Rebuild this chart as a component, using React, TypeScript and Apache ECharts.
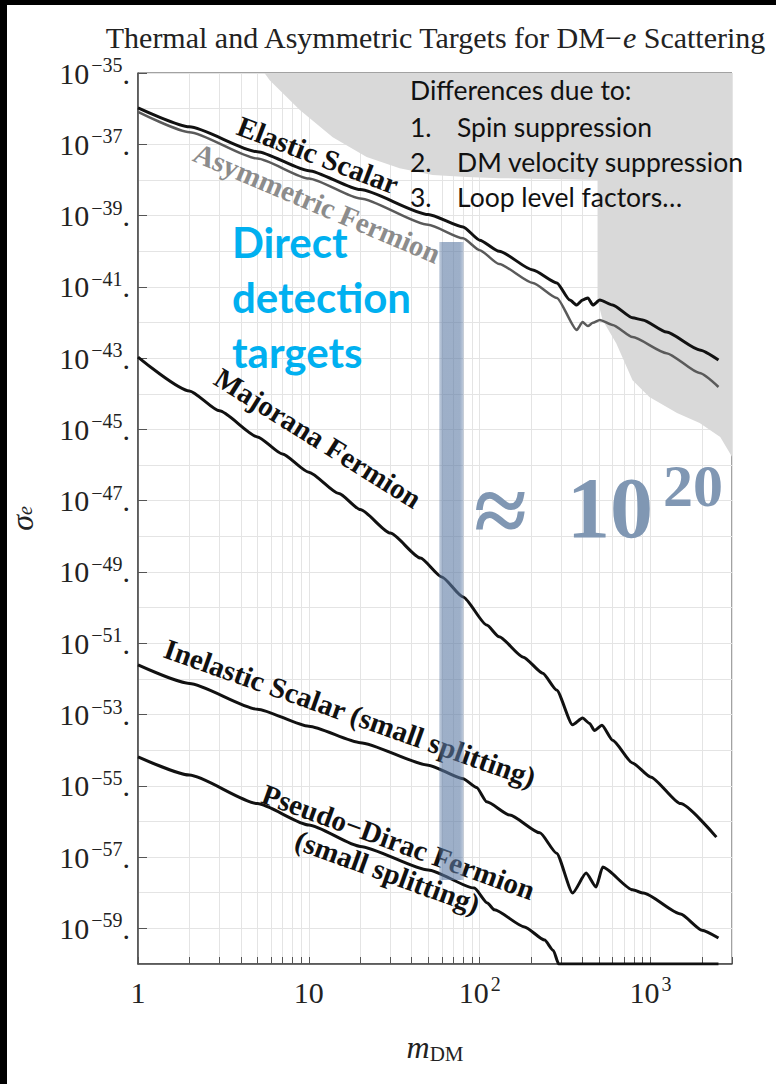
import React, { useEffect, useRef } from "react";
import * as echarts from "echarts";

// ---- data (mass in GeV, cross sections as log10 of sigma_e) ----
const elasticMass = [1, 2, 5, 10, 20, 50, 80, 100, 130, 205, 283, 337, 370, 400, 430, 460, 505, 600, 785, 900, 1240, 1940, 2500];
const elasticLogSigma = [-35.98, -36.51, -37.21, -37.74, -38.27, -38.97, -39.32, -39.69, -40.0, -40.53, -40.89, -41.37, -41.51, -41.37, -41.31, -41.51, -41.37, -41.51, -41.87, -41.93, -42.27, -42.77, -43.05];

const asymMass = [1, 2, 5, 10, 20, 50, 80, 100, 130, 205, 283, 370, 400, 430, 460, 505, 600, 785, 1240, 1940, 2500];
const asymLogSigma = [-36.09, -36.66, -37.4, -37.96, -38.52, -39.26, -39.64, -39.97, -40.36, -40.89, -41.31, -42.21, -41.99, -42.1, -42.01, -41.93, -42.07, -42.41, -42.86, -43.42, -43.81];

const majoranaMass = [1, 2, 3, 5, 7, 10, 15, 20, 30, 45, 60, 80, 110, 130, 180, 234, 282, 350, 400, 440, 470, 520, 600, 785, 1000, 1500, 2430];
const majoranaLogSigma = [-42.97, -43.92, -44.48, -45.21, -45.69, -46.2, -46.8, -47.25, -47.91, -48.61, -49.14, -49.7, -50.49, -50.82, -51.39, -51.84, -52.31, -53.29, -53.1, -53.25, -53.45, -53.3, -53.72, -54.36, -54.75, -55.5, -56.44];

const inelasticMass = [1, 2, 5, 10, 20, 50, 80, 96, 110, 150, 225, 282, 350, 420, 480, 525, 785, 910, 1500, 2000, 2500];
const inelasticLogSigma = [-51.61, -52.13, -52.85, -53.33, -53.79, -54.42, -54.8, -55.05, -55.45, -55.82, -56.32, -56.89, -58.01, -57.45, -57.84, -57.28, -57.92, -58.01, -58.6, -59.05, -59.27];

const pseudoMass = [1, 2, 5, 10, 20, 50, 93, 111, 122, 183, 240, 270, 290, 2500];
const pseudoLogSigma = [-54.19, -54.7, -55.5, -56.1, -56.7, -57.36, -57.87, -58.29, -58.48, -58.96, -59.33, -59.62, -60.0, -60.0];

// grey excluded region (lower boundary), closes along the top / right frame
const greyMass = [5.5, 5.9, 8.86, 13.8, 21.8, 34, 53, 84, 131, 490, 490, 524, 630, 785, 985, 1430, 1940, 2560, 3000, 3000];
const greyLogSigma = [-35, -35.2, -36.04, -36.8, -37.36, -37.67, -37.86, -37.92, -37.95, -38.0, -41.37, -41.93, -42.58, -43.62, -44.09, -44.54, -44.82, -45.21, -45.77, -35];

// highlighted band: [mass from, mass to], [log sigma top, log sigma bottom]
const bandMass = [58, 80.5];
const bandLogSigma = [-39.74, -57.64];

// axes
const xTickMasses = [1, 2, 3, 4, 5, 6, 7, 8, 9, 10, 20, 30, 40, 50, 60, 70, 80, 90, 100, 200, 300, 400, 500, 600, 700, 800, 900, 1000, 2000, 3000];
const xLabelExponents = [0, 1, 2, 3];
const yGridExponents = [-60, -59, -58, -57, -56, -55, -54, -53, -52, -51, -50, -49, -48, -47, -46, -45, -44, -43, -42, -41, -40, -39, -38, -37, -36, -35];
const yLabelExponents = [-59, -57, -55, -53, -51, -49, -47, -45, -43, -41, -39, -37, -35];

const SERIF = '"Liberation Serif", "Times New Roman", serif';
const SANS = 'Lato, "Open Sans", sans-serif';
const L = Math.log10;

const pts = (m: number[], s: number[]) => m.map((v, i) => [L(v), s[i]]);

export default function App() {
  const ref = useRef<HTMLDivElement>(null);
  useEffect(() => {
    if (!ref.current) return;
    const chart = echarts.init(ref.current, null, { renderer: "svg" });
    const deg = (d: number) => (-d * Math.PI) / 180;
    const lineSeries = (name: string, m: number[], s: number[], color: string, width: number) => ({
      type: "line",
      name,
      data: pts(m, s),
      showSymbol: false,
      symbol: "none",
      smooth: 0.2,
      smoothMonotone: "x",
      lineStyle: { color, width },
      z: 4,
      silent: true,
    });
    const labelText = (text: string, x: number, y: number, rot: number, fill: string, size = 29, lh = 32) => ({
      type: "text",
      x,
      y,
      rotation: deg(rot),
      z: 5,
      style: {
        text,
        fill,
        fontFamily: SERIF,
        fontWeight: "bold",
        fontSize: size,
        lineHeight: lh,
        textAlign: "center",
        textVerticalAlign: "middle",
      },
    });
    const plain = (text: string, x: number, y: number, opts: any) => ({
      type: "text",
      x,
      y,
      z: 6,
      style: { text, textVerticalAlign: "middle", textAlign: "left", ...opts },
    });
    const tickRich = {
      b: { fontFamily: SERIF, fontSize: 30, color: "#222", lineHeight: 36 },
      s: { fontFamily: SERIF, fontSize: 20, color: "#222", lineHeight: 20, verticalAlign: "top", padding: [0, 0, 0, 2] },
    };
    const option: any = {
      animation: false,
      backgroundColor: "#ffffff",
      title: {
        text: "Thermal and Asymmetric Targets for DM\u2212{i|e} Scattering",
        left: 430,
        top: 16,
        textAlign: "center",
        textStyle: {
          fontFamily: SERIF,
          fontSize: 30,
          lineHeight: 32,
          fontWeight: "normal",
          color: "#222",
          rich: { i: { fontFamily: SERIF, fontStyle: "italic", fontSize: 30, lineHeight: 32, color: "#222" } },
        },
      },
      grid: {
        left: 138,
        right: 44,
        top: 73,
        bottom: 120,
        show: true,
        borderColor: "#444",
        borderWidth: 1,
        containLabel: false,
        outerBoundsMode: "none",
      },
      xAxis: {
        type: "value",
        min: 0,
        max: L(3000),
        axisLine: { show: true, onZero: false, lineStyle: { color: "#444", width: 1.5 } },
        axisTick: { show: true, inside: true, length: 7, customValues: xTickMasses.map(L), lineStyle: { color: "#555" } },
        axisLabel: {
          customValues: xLabelExponents,
          margin: 10,
          formatter: (v: number) => {
            const e = Math.round(v);
            if (e === 0) return "{b|1}";
            if (e === 1) return "{b|10}";
            return `{b|10}{s|${e}}`;
          },
          rich: tickRich,
        },
        splitLine: { show: true, lineStyle: { color: "#e4e4e4", width: 1 } },
        name: "{m|m}{s|DM}",
        nameLocation: "middle",
        nameGap: 66,
        nameTextStyle: {
          rich: {
            m: { fontFamily: SERIF, fontStyle: "italic", fontSize: 32, color: "#222", lineHeight: 34 },
            s: { fontFamily: SERIF, fontSize: 21, color: "#222", lineHeight: 21, verticalAlign: "bottom" },
          },
        },
      },
      yAxis: [
        {
          type: "value",
          min: -60,
          max: -35,
          interval: 1,
          axisLine: { show: false },
          axisTick: { show: false, customValues: yGridExponents },
          axisLabel: { show: false },
          splitLine: { show: true, lineStyle: { color: "#e4e4e4", width: 1 } },
        },
        {
          type: "value",
          min: -60,
          max: -35,
          interval: 1,
          position: "left",
          axisLine: { show: true, onZero: false, lineStyle: { color: "#444", width: 1.5 } },
          axisTick: { show: true, inside: true, length: 9, customValues: yLabelExponents, lineStyle: { color: "#555" } },
          axisLabel: {
            customValues: yLabelExponents,
            margin: 8,
            formatter: (v: number) => `{b|10}{s|\u2212${Math.abs(Math.round(v))}}{b|.}`,
            rich: tickRich,
          },
          splitLine: { show: false },
          name: "{m|\u03c3}{s|e}",
          nameLocation: "middle",
          nameGap: 103,
          nameRotate: 90,
          nameTextStyle: {
            rich: {
              m: { fontFamily: SERIF, fontStyle: "italic", fontSize: 32, color: "#222", lineHeight: 26 },
              s: { fontFamily: SERIF, fontStyle: "italic", fontSize: 20, color: "#222", lineHeight: 18, verticalAlign: "bottom" },
            },
          },
        },
      ],
      series: [
        {
          type: "custom",
          name: "Excluded region",
          coordinateSystem: "cartesian2d",
          clip: true,
          silent: true,
          z: 1,
          data: [[L(greyMass[0]), greyLogSigma[0]]],
          renderItem: (_p: any, api: any) => ({
            type: "polygon",
            shape: { points: greyMass.map((m, i) => api.coord([L(m), greyLogSigma[i]])) },
            style: { fill: "#d9d9d9" },
          }),
        },
        lineSeries("Elastic Scalar", elasticMass, elasticLogSigma, "#111", 3),
        lineSeries("Asymmetric Fermion", asymMass, asymLogSigma, "#5a5a5a", 2.5),
        lineSeries("Majorana Fermion", majoranaMass, majoranaLogSigma, "#111", 3),
        lineSeries("Inelastic Scalar (small splitting)", inelasticMass, inelasticLogSigma, "#111", 3),
        lineSeries("Pseudo-Dirac Fermion (small splitting)", pseudoMass, pseudoLogSigma, "#111", 3),
        {
          type: "custom",
          name: "Direct detection targets",
          coordinateSystem: "cartesian2d",
          clip: true,
          silent: true,
          z: 10,
          data: [[L(bandMass[0]), bandLogSigma[0], L(bandMass[1]), bandLogSigma[1]]],
          renderItem: (_p: any, api: any) => {
            const a = api.coord([api.value(0), api.value(1)]);
            const b = api.coord([api.value(2), api.value(3)]);
            return {
              type: "rect",
              shape: { x: a[0], y: a[1], width: b[0] - a[0], height: b[1] - a[1] },
              style: {
                fill: new echarts.graphic.LinearGradient(0, 0, 1, 0, [
                  { offset: 0, color: "rgba(92,122,164,0.38)" },
                  { offset: 0.15, color: "rgba(92,122,164,0.6)" },
                  { offset: 0.85, color: "rgba(92,122,164,0.6)" },
                  { offset: 1, color: "rgba(92,122,164,0.38)" },
                ]),
              },
            };
          },
        },
      ],
      graphic: [
        { type: "rect", z: 20, shape: { x: 0, y: 0, width: 7, height: 1084 }, style: { fill: "#000" } },
        { type: "rect", z: 20, shape: { x: 0, y: 0, width: 776, height: 5 }, style: { fill: "#000" } },
        labelText("Elastic Scalar", 318, 155, 21, "#111"),
        labelText("Asymmetric Fermion", 317, 203, 23, "#8c8c8c"),
        labelText("Majorana Fermion", 318, 438, 32, "#111"),
        labelText("Inelastic Scalar (small splitting)", 350, 713, 19.5, "#111"),
        labelText("Pseudo\u2212Dirac Fermion\n(small splitting)", 393, 857, 20, "#111"),
        plain("Differences due to:", 410, 90, { fontFamily: SANS, fontSize: 26.5, fill: "#111" }),
        plain("1.", 410, 127, { fontFamily: SANS, fontSize: 26.5, fill: "#111" }),
        plain("Spin suppression", 457, 127, { fontFamily: SANS, fontSize: 26.5, fill: "#111" }),
        plain("2.", 410, 162, { fontFamily: SANS, fontSize: 26.5, fill: "#111" }),
        plain("DM velocity suppression", 457, 162, { fontFamily: SANS, fontSize: 26.5, fill: "#111" }),
        plain("3.", 410, 197, { fontFamily: SANS, fontSize: 26.5, fill: "#111" }),
        plain("Loop level factors\u2026", 457, 197, { fontFamily: SANS, fontSize: 26.5, fill: "#111" }),
        plain("Direct", 232, 242, { fontFamily: SANS, fontSize: 42, fontWeight: "bold", fill: "#00b0f0" }),
        plain("detection", 232, 297, { fontFamily: SANS, fontSize: 42, fontWeight: "bold", fill: "#00b0f0" }),
        plain("targets", 232, 352, { fontFamily: SANS, fontSize: 42, fontWeight: "bold", fill: "#00b0f0" }),
        plain("\u2248", 474, 510, { fontFamily: SERIF, fontSize: 96, fontWeight: "bold", fill: "#8097b3" }),
        plain("10", 567, 508, { fontFamily: SERIF, fontSize: 86, fontWeight: "bold", fill: "#8097b3" }),
        plain("20", 663, 486, { fontFamily: SERIF, fontSize: 60, fontWeight: "bold", fill: "#8097b3" }),
      ],
    };
    chart.setOption(option);
    return () => chart.dispose();
  }, []);
  return <div ref={ref} style={{ position: "absolute", left: 0, top: 0, width: 776, height: 1084 }} />;
}
